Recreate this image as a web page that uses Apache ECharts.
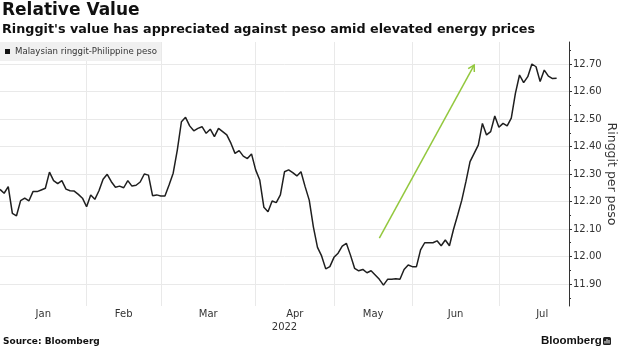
<!DOCTYPE html>
<html><head><meta charset="utf-8">
<script src="https://cdn.jsdelivr.net/npm/echarts@6/dist/echarts.min.js"></script>
<style>html,body{margin:0;padding:0;background:#fff}#c{width:620px;height:348px}</style>
</head><body><div id="c"></div>
<script>
// ---- data ----
const monthNames = ['Jan','Feb','Mar','Apr','May','Jun','Jul'];
const jan = [12.244,12.230,12.254,12.157,12.148,12.203,12.212,12.202,12.236,12.236,12.242,12.248,12.307,12.276,12.265,12.276,12.245,12.239,12.238,12.226,12.212];
const feb = [12.181,12.224,12.208,12.239,12.281,12.299,12.272,12.252,12.256,12.250,12.276,12.256,12.259,12.271,12.300,12.296,12.221,12.224];
const mar = [12.220,12.220,12.260,12.303,12.387,12.490,12.506,12.475,12.457,12.466,12.472,12.448,12.463,12.436,12.466,12.454,12.442,12.412,12.375,12.385,12.365,12.356,12.373];
const apr = [12.315,12.278,12.179,12.163,12.202,12.196,12.224,12.308,12.315,12.305,12.293,12.308,12.254,12.205,12.108,12.033,12.002,11.955,11.963];
const may = [11.997,12.012,12.038,12.048,12.005,11.957,11.948,11.953,11.941,11.948,11.933,11.917,11.896,11.917,11.917,11.919,11.917,11.953,11.969];
const jun = [11.963,11.963,12.024,12.050,12.050,12.050,12.057,12.039,12.060,12.039,12.099,12.151,12.205,12.272,12.345,12.375,12.405,12.484,12.442,12.454,12.511];
const jul = [12.470,12.484,12.475,12.503,12.593,12.660,12.632,12.654,12.700,12.690,12.636,12.678,12.656,12.647,12.648];
const julyNominalDays = 21;   // full month length used to centre the "Jul" label
const trailingSlots = 3;      // empty days after the last value
const yTickLabels = [11.9,12.0,12.1,12.2,12.3,12.4,12.5,12.6,12.7];
const yMinorTicks = [11.85,11.95,12.05,12.15,12.25,12.35,12.45,12.55,12.65,12.75];
const yMin = 11.82, yMax = 12.78;
const yearLabel = '2022';
const seriesName = 'Malaysian ringgit-Philippine peso';
const arrowFrom = [92, 12.067];
const arrowTo = [115, 12.696];

// ---- build ----
const monthSeries = [jan,feb,mar,apr,may,jun,jul];
const categories = [], values = [], monthStarts = [], monthMids = [];
monthSeries.forEach((arr, m) => {
  const start = categories.length;
  monthStarts.push(start);
  const len = (m === monthSeries.length - 1) ? julyNominalDays : arr.length;
  monthMids.push(start + len / 2);
  arr.forEach((v, k) => { categories.push(monthNames[m] + '-' + (k + 1)); values.push(v); });
});
for (let i = 0; i < trailingSlots; i++) { categories.push('pad-' + i); values.push(null); }
const startSet = new Set(monthStarts.filter(i => i > 0));

const FONT = 'DejaVu Sans';
const TXT = '#333';
const chart = echarts.init(document.getElementById('c'), null, {renderer: 'canvas'});

const texts = [
  {type: 'text', left: 2, top: 2, style: {text: 'Relative Value', fontFamily: FONT, fontWeight: 'bold', fontSize: 17, fill: '#111'}},
  {type: 'text', left: 2, top: 23, style: {text: "Ringgit's value has appreciated against peso amid elevated energy prices", fontFamily: FONT, fontWeight: 'bold', fontSize: 12.75, fill: '#111'}},
  {type: 'text', left: 3, top: 337, style: {text: 'Source: Bloomberg', fontFamily: FONT, fontWeight: 'bold', fontSize: 9, fill: '#111'}},
  {type: 'text', left: 541, top: 335, style: {text: 'Bloomberg', fontFamily: 'Liberation Sans', fontWeight: 'bold', fontSize: 11.5, fill: '#111'}},
  {type: 'rect', shape: {x: 603, y: 337, width: 8, height: 8, r: 1.5}, style: {fill: '#222'}},
  {type: 'polyline', shape: {points: [[605, 343.5], [605, 341]]}, style: {stroke: '#fff', lineWidth: 1}},
  {type: 'polyline', shape: {points: [[607, 343.5], [607, 339]]}, style: {stroke: '#fff', lineWidth: 1}},
  {type: 'polyline', shape: {points: [[609, 343.5], [609, 340]]}, style: {stroke: '#fff', lineWidth: 1}}
];

chart.setOption({
  animation: false,
  backgroundColor: '#fff',
  grid: {left: 0, right: 51, top: 42, bottom: 42, containLabel: false, outerBoundsMode: 'none'},
  legend: {
    data: [{name: seriesName, icon: 'rect'}],
    left: 0, top: 42,
    backgroundColor: '#f0f0f0',
    padding: [5, 4, 5, 5],
    itemWidth: 5, itemHeight: 5,
    textStyle: {fontFamily: FONT, fontSize: 8.6, color: TXT},
    selectedMode: false
  },
  xAxis: [{
    type: 'category', data: categories, boundaryGap: false,
    axisLine: {show: false, onZero: false}, axisTick: {show: false}, axisLabel: {show: false},
    splitLine: {show: true, interval: (i) => startSet.has(i), lineStyle: {color: '#e9e9e9', width: 1}}
  }, {
    type: 'value', min: 0, max: categories.length - 1, position: 'bottom',
    axisLine: {show: false, onZero: false}, axisTick: {show: false}, splitLine: {show: false},
    axisLabel: {
      customValues: monthMids, margin: 3,
      fontFamily: FONT, fontSize: 10, color: TXT,
      formatter: (v) => { const i = monthMids.findIndex(m => Math.abs(m - v) < 1e-6); return i >= 0 ? monthNames[i] : ''; }
    },
    name: yearLabel, nameLocation: 'middle', nameGap: 16, nameMoveOverlap: false,
    nameTextStyle: {fontFamily: FONT, fontSize: 10, color: TXT}
  }],
  yAxis: [{
    type: 'value', position: 'right', min: yMin, max: yMax, splitNumber: 10,
    axisLine: {show: true, onZero: false, lineStyle: {color: '#333', width: 1}},
    axisTick: {show: true, customValues: yTickLabels, length: 3, lineStyle: {color: '#333'}},
    axisLabel: {customValues: yTickLabels, margin: 4, fontFamily: FONT, fontSize: 10, color: TXT,
      formatter: (v) => v.toFixed(2)},
    splitLine: {show: true, lineStyle: {color: '#e9e9e9', width: 1}},
    name: 'Ringgit per peso', nameLocation: 'middle', nameRotate: -90, nameGap: 36, nameMoveOverlap: false,
    nameTextStyle: {fontFamily: FONT, fontSize: 12.5, color: TXT}
  }, {
    type: 'value', position: 'right', min: yMin, max: yMax,
    axisLine: {show: false, onZero: false},
    axisTick: {show: true, customValues: yMinorTicks, length: 2, lineStyle: {color: '#333'}},
    axisLabel: {show: false}, splitLine: {show: false}
  }],
  series: [{
    name: seriesName, type: 'line', xAxisIndex: 0, yAxisIndex: 0,
    data: values, showSymbol: false, symbol: 'none',
    color: '#1f1f1f',
    lineStyle: {color: '#1f1f1f', width: 1.5},
    itemStyle: {color: '#111'}
  }],
  graphic: texts
});

function drawExtras() {
  const p0 = chart.convertToPixel({xAxisIndex: 0, yAxisIndex: 0}, arrowFrom);
  const p1 = chart.convertToPixel({xAxisIndex: 0, yAxisIndex: 0}, arrowTo);
  const ang = Math.atan2(p0[1] - p1[1], p0[0] - p1[0]);
  const L = 7, a = Math.PI / 6;
  const h1 = [p1[0] + L * Math.cos(ang + a), p1[1] + L * Math.sin(ang + a)];
  const h2 = [p1[0] + L * Math.cos(ang - a), p1[1] + L * Math.sin(ang - a)];
  const g = '#93c83e';
  chart.setOption({graphic: texts.concat([
    {type: 'line', shape: {x1: p0[0], y1: p0[1], x2: p1[0], y2: p1[1]}, style: {stroke: g, lineWidth: 1.5}, z: 10},
    {type: 'polyline', shape: {points: [h1, p1, h2]}, style: {stroke: g, lineWidth: 1.5, fill: null}, z: 10}
  ])}, {replaceMerge: ['graphic']});
}
drawExtras();
</script></body></html>
